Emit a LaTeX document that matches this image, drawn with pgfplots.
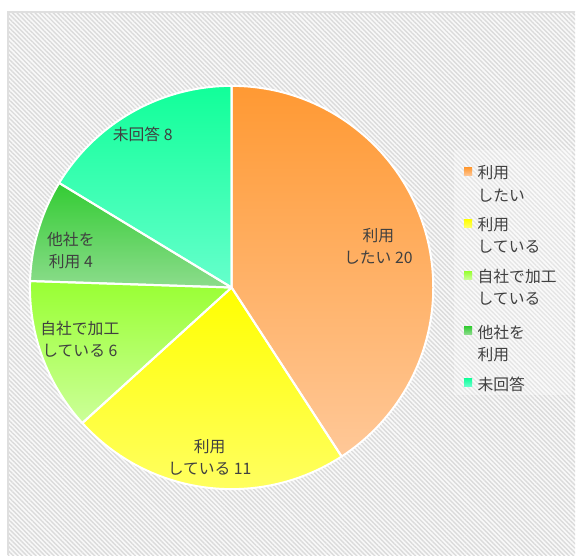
\documentclass[border=0pt]{standalone}
\usepackage{pgfplots}
\pgfplotsset{compat=1.18}
\usepackage{pgfplotstable}
\usepackage{fontspec}
\setmainfont{Noto Sans CJK JP}
\usetikzlibrary{patterns.meta}

\definecolor{txt}{HTML}{404040}
\definecolor{top0}{HTML}{FF9933}\definecolor{bot0}{HTML}{FFC898}
\definecolor{top1}{HTML}{FFFF00}\definecolor{bot1}{HTML}{FFFF6A}
\definecolor{top2}{HTML}{99FF33}\definecolor{bot2}{HTML}{CCFF99}
\definecolor{top3}{HTML}{33CC33}\definecolor{bot3}{HTML}{8CDC8C}
\definecolor{top4}{HTML}{11FF99}\definecolor{bot4}{HTML}{66FFCC}

\pgfplotstableread{
idx value
0 20
1 11
2 6
3 4
4 8
}\piedata

\begin{document}
\begin{tikzpicture}[font=\fontsize{15.8bp}{22.5bp}\selectfont, text=txt]
% compute angles from data
\def\tot{0}
\pgfplotsforeachungrouped \i in {0,...,4}{%
  \pgfplotstablegetelem{\i}{value}\of\piedata
  \pgfmathsetmacro\tot{\tot+\pgfplotsretval}%
}
\def\acc{90}
\pgfplotsforeachungrouped \i in {0,...,4}{%
  \pgfplotstablegetelem{\i}{value}\of\piedata
  \expandafter\xdef\csname sa\i\endcsname{\acc}%
  \pgfmathsetmacro\acc{\acc-360*\pgfplotsretval/\tot}%
  \expandafter\xdef\csname ea\i\endcsname{\acc}%
}
% background
\fill[white] (0,0) rectangle (576bp,556bp);
\fill[gray!5] (8bp,0) rectangle (576bp,544bp);
\fill[pattern={Lines[angle=-45,distance=3.2bp,line width=1.4bp]}, pattern color=gray!28] (8bp,0) rectangle (576bp,544bp);
\draw[gray!25, line width=2bp] (8bp,0) -- (8bp,544bp) -- (576bp,544bp);
\fill[white, opacity=0.3] (455bp,160bp) rectangle (573bp,406bp);

\begin{axis}[at={(0,0)}, anchor=south west, width=576bp, height=556bp,
  scale only axis, xmin=0, xmax=576, ymin=0, ymax=556, hide axis, clip=false]
\pgfplotsinvokeforeach{0,...,4}{
  \fill[top color=top#1, bottom color=bot#1] (axis cs:232,268) -- ++(\csname sa#1\endcsname:202bp)
    arc[start angle=\csname sa#1\endcsname, end angle=\csname ea#1\endcsname, radius=202bp] -- cycle;
}
\pgfplotsinvokeforeach{0,...,4}{
  \draw[white, line width=2bp, line join=round] (axis cs:232,268) -- ++(\csname sa#1\endcsname:202bp)
    arc[start angle=\csname sa#1\endcsname, end angle=\csname ea#1\endcsname, radius=202bp] -- cycle;
}
% data labels
\node[align=center] at (axis cs:379,309) {利用\\したい 20};
\node[align=center] at (axis cs:210,98) {利用\\している 11};
\node[align=center] at (axis cs:80,216) {自社で加工\\している 6};
\node[align=center] at (axis cs:71,305) {他社を\\利用 4};
\node[align=center] at (axis cs:143,421) {未回答 8};
% legend
\fill[top color=top0, bottom color=bot0] (axis cs:465,380) rectangle (axis cs:473,388);
\fill[top color=top1, bottom color=bot1] (axis cs:465,328) rectangle (axis cs:473,336);
\fill[top color=top2, bottom color=bot2] (axis cs:465,276) rectangle (axis cs:473,284);
\fill[top color=top3, bottom color=bot3] (axis cs:465,221) rectangle (axis cs:473,229);
\fill[top color=top4, bottom color=bot4] (axis cs:465,169) rectangle (axis cs:473,177);
\node[anchor=west, align=left] at (axis cs:475,372) {利用\\したい};
\node[anchor=west, align=left] at (axis cs:475,320) {利用\\している};
\node[anchor=west, align=left] at (axis cs:475,268) {自社で加工\\している};
\node[anchor=west, align=left] at (axis cs:475,212) {他社を\\利用};
\node[anchor=west, align=left] at (axis cs:475,171) {未回答};
\end{axis}
\end{tikzpicture}
\end{document}
